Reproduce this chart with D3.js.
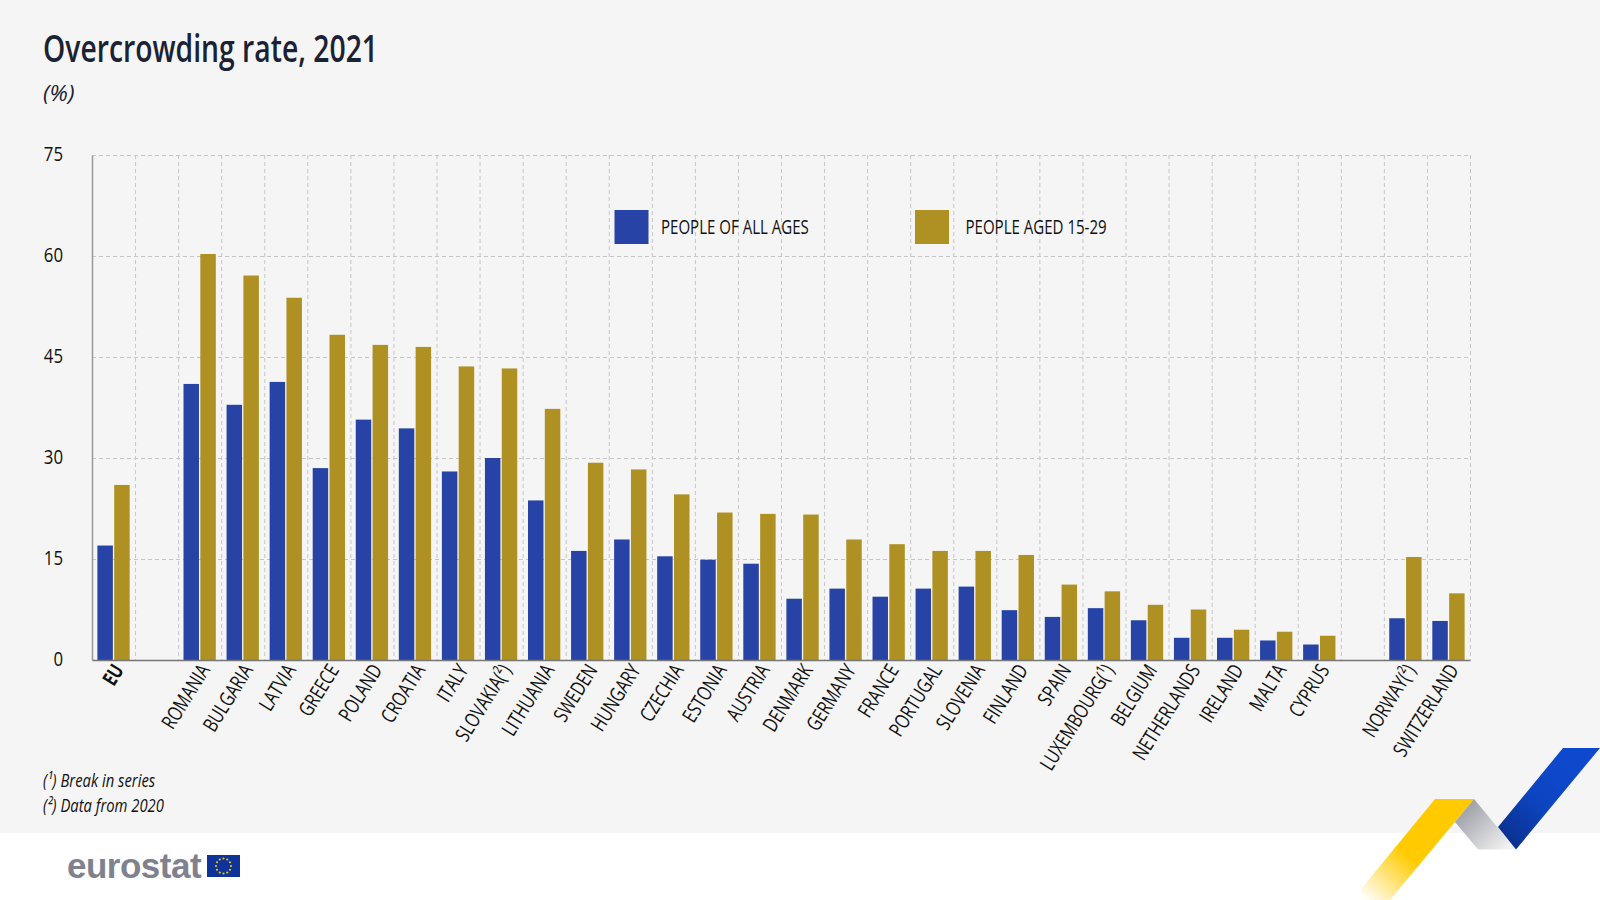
<!DOCTYPE html>
<html>
<head>
<meta charset="utf-8">
<title>Overcrowding rate, 2021</title>
<script src="https://cdn.jsdelivr.net/npm/d3@7"></script>
<style>
  html, body { margin: 0; padding: 0; background: #fff; }
  svg { display: block; }
  text { font-family: "Open Sans", "Noto Sans", sans-serif; fill: #111; }
</style>
</head>
<body>
<div id="chart"></div>
<script>
// blank names keep the gaps after EU and before Norway
const categories = ['EU', ' ', 'ROMANIA', 'BULGARIA', 'LATVIA', 'GREECE', 'POLAND', 'CROATIA', 'ITALY',
  'SLOVAKIA(²)', 'LITHUANIA', 'SWEDEN', 'HUNGARY', 'CZECHIA', 'ESTONIA', 'AUSTRIA', 'DENMARK', 'GERMANY',
  'FRANCE', 'PORTUGAL', 'SLOVENIA', 'FINLAND', 'SPAIN', 'LUXEMBOURG(¹)', 'BELGIUM', 'NETHERLANDS',
  'IRELAND', 'MALTA', 'CYPRUS', '  ', 'NORWAY(²)', 'SWITZERLAND'];
const allAges = [17.0, null, 41.0, 37.9, 41.3, 28.5, 35.7, 34.4, 28.0, 30.0, 23.7, 16.2, 17.9, 15.4, 14.9, 14.3,
  9.1, 10.6, 9.4, 10.6, 10.9, 7.4, 6.4, 7.7, 5.9, 3.3, 3.3, 2.9, 2.3, null, 6.2, 5.8];
const aged1529 = [26.0, null, 60.3, 57.1, 53.8, 48.3, 46.8, 46.5, 43.6, 43.3, 37.3, 29.3, 28.3, 24.6, 21.9, 21.7,
  21.6, 17.9, 17.2, 16.2, 16.2, 15.6, 11.2, 10.2, 8.2, 7.5, 4.5, 4.2, 3.6, null, 15.3, 9.9];
const yTicks = [0, 15, 30, 45, 60, 75];
const seriesNames = ['PEOPLE OF ALL AGES', 'PEOPLE AGED 15-29'];
const seriesValues = [allAges, aged1529];
const seriesColors = ['#2743a6', '#ae9122'];
const footnotes = ['(¹) Break in series', '(²) Data from 2020'];

const width = 1600, height = 900;
const margin = {left: 92, right: 130, top: 155, bottom: 240};
// the original type is a condensed face, so Open Sans gets squeezed sideways
const narrow = 0.76;

const svg = d3.select('#chart').append('svg')
    .attr('width', width)
    .attr('height', height);

function narrowText(x, y, str, size, k) {
  return svg.append('text')
      .attr('transform', `translate(${x},${y}) scale(${k || narrow},1)`)
      .attr('font-size', size)
      .text(str);
}

// page background and footer
svg.append('rect').attr('width', width).attr('height', height).attr('fill', '#fff');
svg.append('rect').attr('width', width).attr('height', 833).attr('fill', '#f5f5f5');

// Title
narrowText(43, 62, 'Overcrowding rate, 2021', 38, 0.745)
    .attr('font-weight', 600).style('fill', '#1a2233');
narrowText(43, 101, '(%)', 22, 1.05)
    .attr('font-style', 'italic').style('fill', '#1a2233');

// Scales
const xScale = d3.scaleBand()
    .domain(categories)
    .range([margin.left, width - margin.right]);
const subScale = d3.scaleBand()
    .domain([0, 1])
    .range([0, xScale.bandwidth()])
    .paddingInner(0.08)
    .paddingOuter(0.32);
const yScale = d3.scaleLinear()
    .domain([0, 75])
    .range([height - margin.bottom, margin.top]);

// Gridlines
const grid = svg.append('g')
    .attr('stroke', '#c6c6c6').attr('stroke-width', 1).attr('stroke-dasharray', '4 3');
grid.selectAll('.h').data(yTicks.slice(1)).enter().append('line')
    .attr('x1', margin.left).attr('x2', width - margin.right)
    .attr('y1', d => yScale(d) + 0.5).attr('y2', d => yScale(d) + 0.5);
grid.selectAll('.v').data(categories).enter().append('line')
    .attr('x1', d => xScale(d) + xScale.bandwidth() + 0.5)
    .attr('x2', d => xScale(d) + xScale.bandwidth() + 0.5)
    .attr('y1', yScale(75)).attr('y2', yScale(0));

// Bars
seriesValues.forEach((values, s) => {
  svg.append('g').selectAll('rect')
    .data(values.map((v, i) => ({cat: categories[i], v})).filter(d => d.v !== null))
    .enter().append('rect')
      .attr('x', d => xScale(d.cat) + subScale(s))
      .attr('y', d => yScale(d.v))
      .attr('width', subScale.bandwidth())
      .attr('height', d => yScale(0) - yScale(d.v))
      .attr('fill', seriesColors[s]);
});

// Axes
const yAxis = svg.append('g')
    .attr('transform', `translate(${margin.left},0)`)
    .call(d3.axisLeft(yScale).tickValues(yTicks).tickSize(0).tickPadding(0));
yAxis.select('.domain').attr('stroke', '#999').attr('stroke-width', 1.5);
yAxis.selectAll('text')
    .attr('font-size', 20)
    .attr('x', 0)
    .attr('dy', '0.26em')
    .attr('transform', 'translate(-29,0) scale(0.84,1)')
    .style('font-family', '"Open Sans", sans-serif');

const xAxis = svg.append('g')
    .attr('transform', `translate(0,${yScale(0)})`)
    .call(d3.axisBottom(xScale).tickSize(0).tickPadding(0));
xAxis.select('.domain').attr('stroke', '#777').attr('stroke-width', 1.5);
xAxis.selectAll('text')
    .attr('font-size', 20.5)
    .attr('text-anchor', 'end')
    .attr('y', 0)
    .attr('dy', 0)
    .attr('font-weight', d => d === 'EU' ? 700 : 400)
    .style('font-family', '"Open Sans", sans-serif')
    .attr('transform', `translate(11,10) rotate(-58) scale(${narrow},1)`);

// Legend
const legendSwatchX = [614.5, 915];
const legendTextX = [661, 965.5];
seriesNames.forEach((name, i) => {
  svg.append('rect').attr('x', legendSwatchX[i]).attr('y', 210)
      .attr('width', 34).attr('height', 34).attr('fill', seriesColors[i]);
  narrowText(legendTextX[i], 233.5, name, 19.8);
});

// Footnotes
footnotes.forEach((t, i) => {
  narrowText(43, 787 + i * 25, t, 19, 0.78).attr('font-style', 'italic');
});

// Eurostat logo
svg.append('text').attr('x', 67).attr('y', 878)
    .attr('font-size', 35).attr('font-weight', 700)
    .attr('letter-spacing', -0.5)
    .style('font-family', '"Liberation Sans", sans-serif').style('fill', '#7f828e')
    .text('eurostat');
svg.append('rect').attr('x', 207).attr('y', 855).attr('width', 33).attr('height', 22).attr('fill', '#10339a');
svg.append('g').selectAll('circle').data(d3.range(12)).enter().append('circle')
    .attr('cx', d => 223.5 + 7.5 * Math.cos(d * Math.PI / 6))
    .attr('cy', d => 866 + 7.5 * Math.sin(d * Math.PI / 6))
    .attr('r', 1.1).attr('fill', '#f3c500');

// Ribbons in the corner
const defs = svg.append('defs');
function ribbonGradient(id, x1, y1, x2, y2, stops) {
  const g = defs.append('linearGradient').attr('id', id)
      .attr('gradientUnits', 'userSpaceOnUse')
      .attr('x1', x1).attr('y1', y1).attr('x2', x2).attr('y2', y2);
  stops.forEach(s => g.append('stop').attr('offset', s[0]).attr('stop-color', s[1]));
}
ribbonGradient('ribbonYellow', 1430, 830, 1365, 900, [[0, '#ffcb00'], [0.35, '#ffcb00'], [1, '#ffffff']]);
ribbonGradient('ribbonGrey', 1462, 805, 1505, 850, [[0, '#9a9ca3'], [1, '#f2f2f2']]);
ribbonGradient('ribbonBlue', 1570, 770, 1505, 845, [[0, '#0e48cc'], [0.45, '#0d44c0'], [1, '#0a2f8a']]);
const ribbons = [
  {fill: 'url(#ribbonYellow)', pts: [[1435, 799], [1474, 799], [1390, 900], [1352, 900]]},
  {fill: 'url(#ribbonGrey)', pts: [[1474, 799], [1516, 849.5], [1478, 849.5], [1455, 822]]},
  {fill: 'url(#ribbonBlue)', pts: [[1563, 748], [1600, 748], [1516, 849.5], [1498, 827]]}
];
svg.append('g').selectAll('polygon').data(ribbons).enter().append('polygon')
    .attr('points', d => d.pts.join(' '))
    .attr('fill', d => d.fill);
</script>
</body>
</html>
